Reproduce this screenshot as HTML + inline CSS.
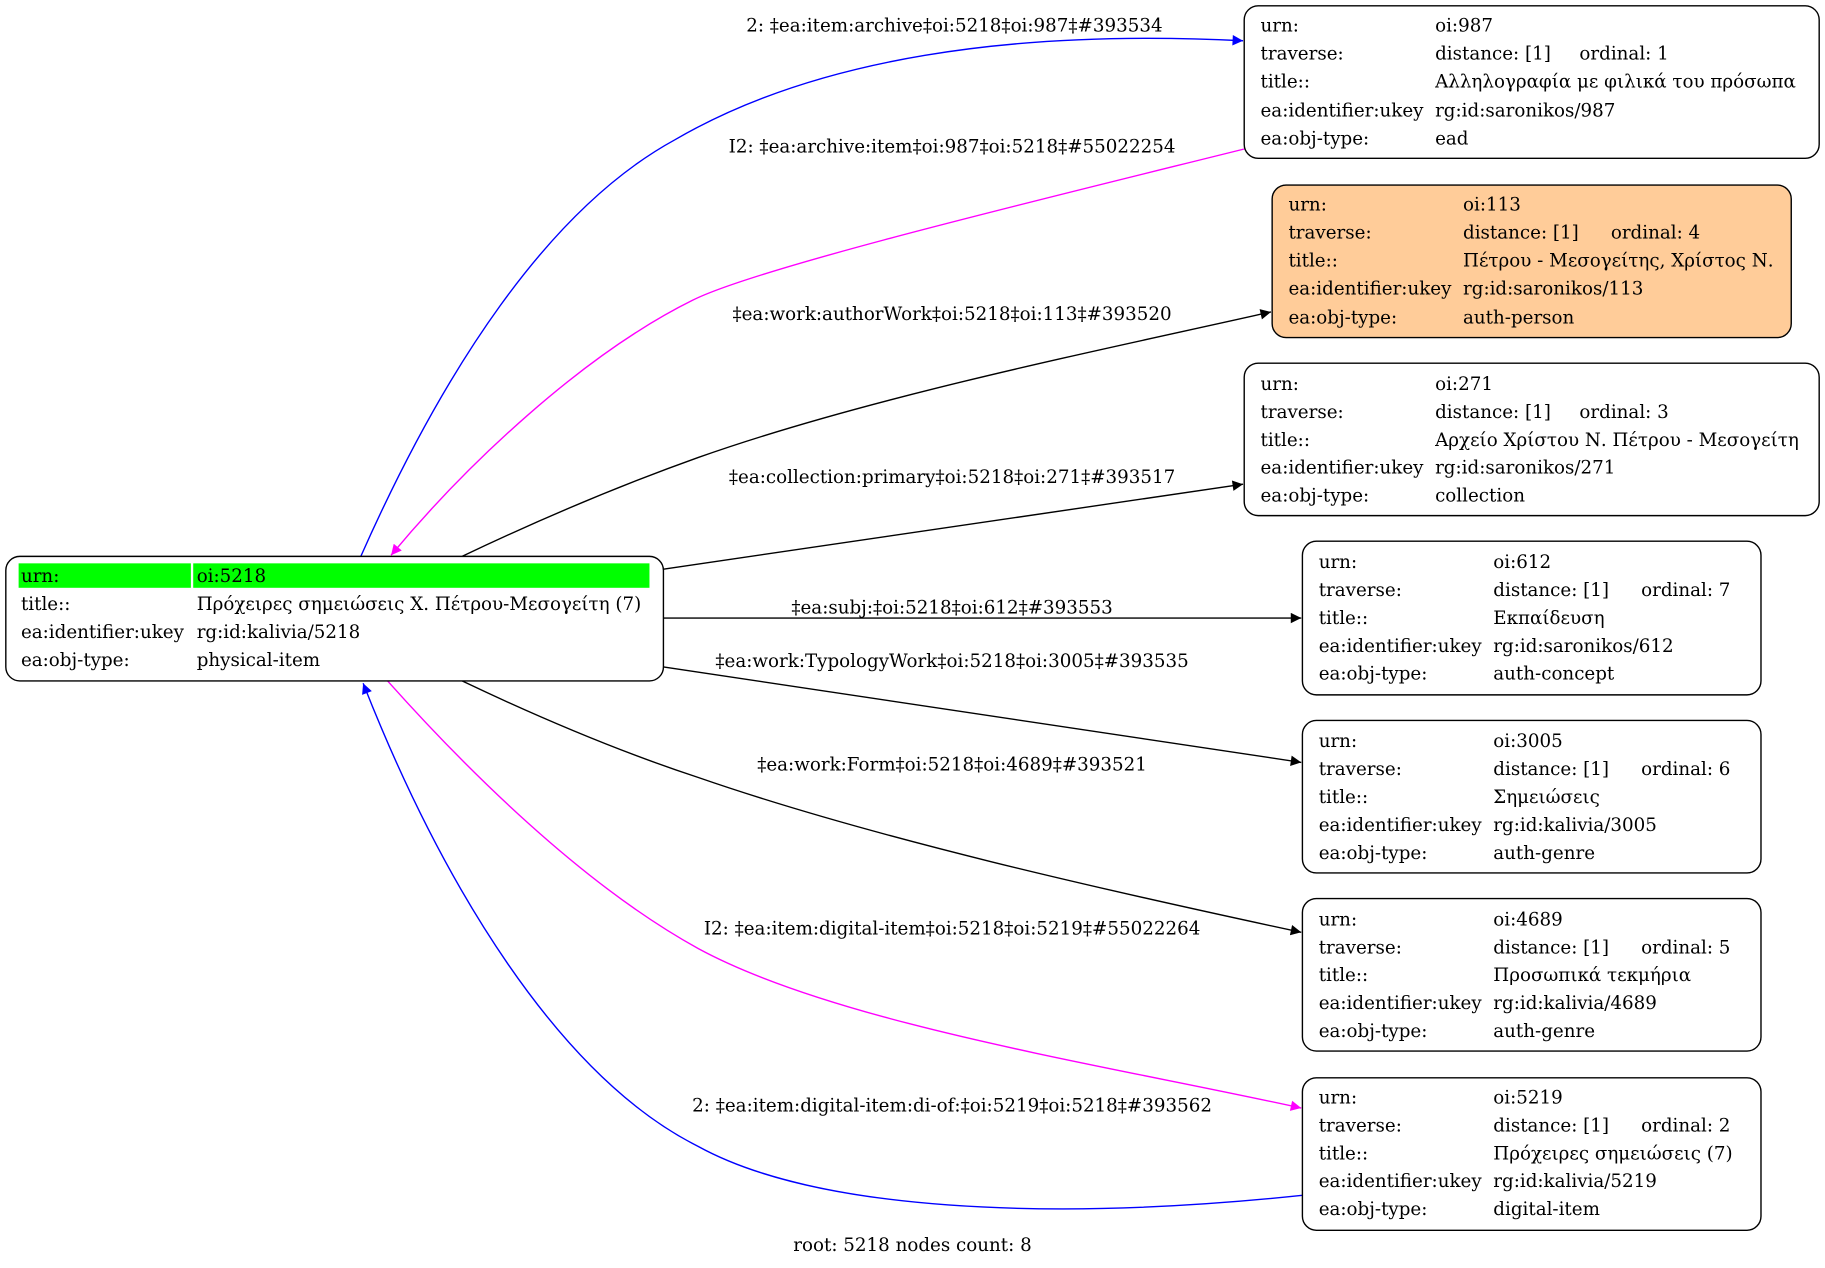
<!DOCTYPE html>
<html><head><meta charset="utf-8"><style>
html,body{margin:0;padding:0;background:#fff;}
svg{display:block;}
text{font-family:"DejaVu Serif",serif;font-size:15.7px;fill:#000;}
.l{text-anchor:middle;}
</style></head><body>
<svg width="1825" height="1268" viewBox="0 0 1568 1089.4" xmlns="http://www.w3.org/2000/svg">
<defs>
<marker id="ab" viewBox="0 0 10 10" refX="10" refY="5" markerWidth="12" markerHeight="9" markerUnits="userSpaceOnUse" orient="auto"><path d="M0,0 L10,5 L0,10 z" fill="#0000ff"/></marker>
<marker id="am" viewBox="0 0 10 10" refX="10" refY="5" markerWidth="12" markerHeight="9" markerUnits="userSpaceOnUse" orient="auto"><path d="M0,0 L10,5 L0,10 z" fill="#ff00ff"/></marker>
<marker id="ak" viewBox="0 0 10 10" refX="10" refY="5" markerWidth="12" markerHeight="9" markerUnits="userSpaceOnUse" orient="auto"><path d="M0,0 L10,5 L0,10 z" fill="#000"/></marker>
</defs>
<g fill="none" stroke-width="1.2">
<path d="M310,478 C380,320 470,180 580,120 C700,50 870,25 1068,35" stroke="#0000ff" marker-end="url(#ab)"/>
<path d="M1069,128 C900,170 650,230 595,258 C500,305 400,400 336,477" stroke="#ff00ff" marker-end="url(#am)"/>
<path d="M397,478 C460,448 530,418 600,393 C750,340 950,300 1092,268" stroke="#000" marker-end="url(#ak)"/>
<path d="M570,489 L1068,416" stroke="#000" marker-end="url(#ak)"/>
<path d="M570,531 L1118,531" stroke="#000" marker-end="url(#ak)"/>
<path d="M570,573 L1118,655" stroke="#000" marker-end="url(#ak)"/>
<path d="M397,585 C460,615 530,645 600,668 C750,720 950,765 1118,801" stroke="#000" marker-end="url(#ak)"/>
<path d="M333,585 C400,660 500,760 600,815 C720,880 950,915 1118,952" stroke="#ff00ff" marker-end="url(#am)"/>
<path d="M1119,1027 C900,1050 700,1040 600,985 C480,925 380,760 312,587" stroke="#0000ff" marker-end="url(#ab)"/>
</g>
<text class="l" x="820" y="27">2: ‡ea:item:archive‡oi:5218‡oi:987‡#393534</text>
<text class="l" x="818" y="131">I2: ‡ea:archive:item‡oi:987‡oi:5218‡#55022254</text>
<text class="l" x="818" y="275">‡ea:work:authorWork‡oi:5218‡oi:113‡#393520</text>
<text class="l" x="818" y="415">‡ea:collection:primary‡oi:5218‡oi:271‡#393517</text>
<text class="l" x="818" y="527">‡ea:subj:‡oi:5218‡oi:612‡#393553</text>
<text class="l" x="818" y="573">‡ea:work:TypologyWork‡oi:5218‡oi:3005‡#393535</text>
<text class="l" x="818" y="662">‡ea:work:Form‡oi:5218‡oi:4689‡#393521</text>
<text class="l" x="818" y="803">I2: ‡ea:item:digital-item‡oi:5218‡oi:5219‡#55022264</text>
<text class="l" x="818" y="955">2: ‡ea:item:digital-item:di-of:‡oi:5219‡oi:5218‡#393562</text>
<text class="l" x="784" y="1075">root: 5218 nodes count: 8</text>

<rect x="5" y="478" width="565" height="107" rx="12" fill="#fff" stroke="#000" stroke-width="1.2"/>
<rect x="16" y="484" width="148" height="21" fill="#00ff00"/>
<rect x="166" y="484" width="392" height="21" fill="#00ff00"/>
<text x="18" y="500">urn:</text><text x="169" y="500">oi:5218</text>
<text x="18" y="524">title::</text><text x="169" y="524">Πρόχειρες σημειώσεις Χ. Πέτρου-Μεσογείτη (7)</text>
<text x="18" y="548">ea:identifier:ukey</text><text x="169" y="548">rg:id:kalivia/5218</text>
<text x="18" y="572">ea:obj-type:</text><text x="169" y="572">physical-item</text>

<rect x="1069" y="5" width="494" height="131" rx="12" fill="#fff" stroke="#000" stroke-width="1.2"/>
<text x="1083" y="27">urn:</text><text x="1233" y="27">oi:987</text>
<text x="1083" y="51">traverse:</text><text x="1233" y="51">distance: [1]</text><text x="1357" y="51">ordinal: 1</text>
<text x="1083" y="75">title::</text><text x="1233" y="75">Αλληλογραφία με φιλικά του πρόσωπα</text>
<text x="1083" y="100">ea:identifier:ukey</text><text x="1233" y="100">rg:id:saronikos/987</text>
<text x="1083" y="124">ea:obj-type:</text><text x="1233" y="124">ead</text>

<rect x="1093" y="159" width="446" height="131" rx="12" fill="#ffcc99" stroke="#000" stroke-width="1.2"/>
<text x="1107" y="181">urn:</text><text x="1257" y="181">oi:113</text>
<text x="1107" y="205">traverse:</text><text x="1257" y="205">distance: [1]</text><text x="1384" y="205">ordinal: 4</text>
<text x="1107" y="229">title::</text><text x="1257" y="229">Πέτρου - Μεσογείτης, Χρίστος Ν.</text>
<text x="1107" y="253">ea:identifier:ukey</text><text x="1257" y="253">rg:id:saronikos/113</text>
<text x="1107" y="278">ea:obj-type:</text><text x="1257" y="278">auth-person</text>

<rect x="1069" y="312" width="494" height="131" rx="12" fill="#fff" stroke="#000" stroke-width="1.2"/>
<text x="1083" y="335">urn:</text><text x="1233" y="335">oi:271</text>
<text x="1083" y="359">traverse:</text><text x="1233" y="359">distance: [1]</text><text x="1357" y="359">ordinal: 3</text>
<text x="1083" y="383">title::</text><text x="1233" y="383">Αρχείο Χρίστου Ν. Πέτρου - Μεσογείτη</text>
<text x="1083" y="407">ea:identifier:ukey</text><text x="1233" y="407">rg:id:saronikos/271</text>
<text x="1083" y="431">ea:obj-type:</text><text x="1233" y="431">collection</text>

<rect x="1119" y="465" width="394" height="132" rx="12" fill="#fff" stroke="#000" stroke-width="1.2"/>
<text x="1133" y="488">urn:</text><text x="1283" y="488">oi:612</text>
<text x="1133" y="512">traverse:</text><text x="1283" y="512">distance: [1]</text><text x="1410" y="512">ordinal: 7</text>
<text x="1133" y="536">title::</text><text x="1283" y="536">Εκπαίδευση</text>
<text x="1133" y="560">ea:identifier:ukey</text><text x="1283" y="560">rg:id:saronikos/612</text>
<text x="1133" y="584">ea:obj-type:</text><text x="1283" y="584">auth-concept</text>

<rect x="1119" y="619" width="394" height="131" rx="12" fill="#fff" stroke="#000" stroke-width="1.2"/>
<text x="1133" y="642">urn:</text><text x="1283" y="642">oi:3005</text>
<text x="1133" y="666">traverse:</text><text x="1283" y="666">distance: [1]</text><text x="1410" y="666">ordinal: 6</text>
<text x="1133" y="690">title::</text><text x="1283" y="690">Σημειώσεις</text>
<text x="1133" y="714">ea:identifier:ukey</text><text x="1283" y="714">rg:id:kalivia/3005</text>
<text x="1133" y="738">ea:obj-type:</text><text x="1283" y="738">auth-genre</text>

<rect x="1119" y="772" width="394" height="131" rx="12" fill="#fff" stroke="#000" stroke-width="1.2"/>
<text x="1133" y="795">urn:</text><text x="1283" y="795">oi:4689</text>
<text x="1133" y="819">traverse:</text><text x="1283" y="819">distance: [1]</text><text x="1410" y="819">ordinal: 5</text>
<text x="1133" y="843">title::</text><text x="1283" y="843">Προσωπικά τεκμήρια</text>
<text x="1133" y="867">ea:identifier:ukey</text><text x="1283" y="867">rg:id:kalivia/4689</text>
<text x="1133" y="891">ea:obj-type:</text><text x="1283" y="891">auth-genre</text>

<rect x="1119" y="926" width="394" height="131" rx="12" fill="#fff" stroke="#000" stroke-width="1.2"/>
<text x="1133" y="948">urn:</text><text x="1283" y="948">oi:5219</text>
<text x="1133" y="972">traverse:</text><text x="1283" y="972">distance: [1]</text><text x="1410" y="972">ordinal: 2</text>
<text x="1133" y="996">title::</text><text x="1283" y="996">Πρόχειρες σημειώσεις (7)</text>
<text x="1133" y="1020">ea:identifier:ukey</text><text x="1283" y="1020">rg:id:kalivia/5219</text>
<text x="1133" y="1044">ea:obj-type:</text><text x="1283" y="1044">digital-item</text>
</svg>
</body></html>
